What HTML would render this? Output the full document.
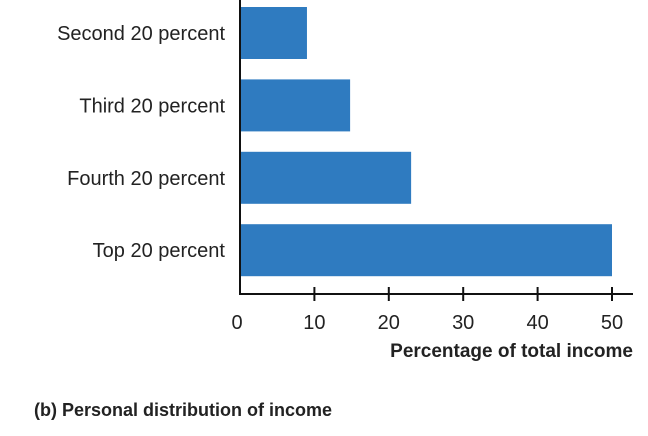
<!DOCTYPE html>
<html><head><meta charset="utf-8">
<style>
html,body{margin:0;padding:0;background:#fff;}
svg{display:block;font-family:"Liberation Sans",sans-serif;}
</style></head>
<body>
<svg id="chart" width="648" height="436" viewBox="0 0 648 436" xmlns="http://www.w3.org/2000/svg">
<g id="bars"></g>
<g id="ylabels"></g>
<line x1="240" y1="0" x2="240" y2="294" stroke="#111" stroke-width="2"/>
<line x1="239" y1="294" x2="633" y2="294" stroke="#111" stroke-width="2"/>
<g id="xticks"></g>
<text x="633" y="357" text-anchor="end" font-size="19" font-weight="bold" fill="#222">Percentage of total income</text>
<text x="34" y="416" font-size="18" font-weight="bold" fill="#222">(b) Personal distribution of income</text>
</svg>
<script>
const categories = ["Second 20 percent","Third 20 percent","Fourth 20 percent","Top 20 percent"];
const values = [9, 14.8, 23, 50];
const tickLabels = [0, 10, 20, 30, 40, 50];

const NS = "http://www.w3.org/2000/svg";
const x = v => 240 + v * 7.44;
const yTop = i => 7 + i * 72.4;
const barH = 52;

const bars = document.getElementById('bars');
const ylabels = document.getElementById('ylabels');
categories.forEach((c, i) => {
  const r = document.createElementNS(NS, 'rect');
  
  
  r.setAttribute('x', x(0));
  r.setAttribute('y', yTop(i));
  r.setAttribute('width', x(values[i]) - x(0));
  r.setAttribute('height', barH);
  r.setAttribute('fill', '#2f7bc0');
  bars.appendChild(r);
  const t = document.createElementNS(NS, 'text');
  
  
  t.setAttribute('x', 225);
  t.setAttribute('y', yTop(i) + barH / 2 + 7);
  t.setAttribute('text-anchor', 'end');
  t.setAttribute('font-size', '20');
  t.setAttribute('fill', '#222');
  t.textContent = c;
  ylabels.appendChild(t);
});

const xticks = document.getElementById('xticks');
tickLabels.forEach(v => {
  if (v > 0) {
    const l = document.createElementNS(NS, 'line');
    
    
    l.setAttribute('x1', x(v)); l.setAttribute('x2', x(v));
    l.setAttribute('y1', 287); l.setAttribute('y2', 301);
    l.setAttribute('stroke', '#111'); l.setAttribute('stroke-width', '2');
    xticks.appendChild(l);
  }
  const t = document.createElementNS(NS, 'text');
  
  
  t.setAttribute('x', v === 0 ? x(v) - 3 : x(v));
  t.setAttribute('y', 329);
  t.setAttribute('text-anchor', 'middle');
  t.setAttribute('font-size', '20');
  t.setAttribute('fill', '#222');
  t.textContent = v;
  xticks.appendChild(t);
});
</script>
</body></html>
